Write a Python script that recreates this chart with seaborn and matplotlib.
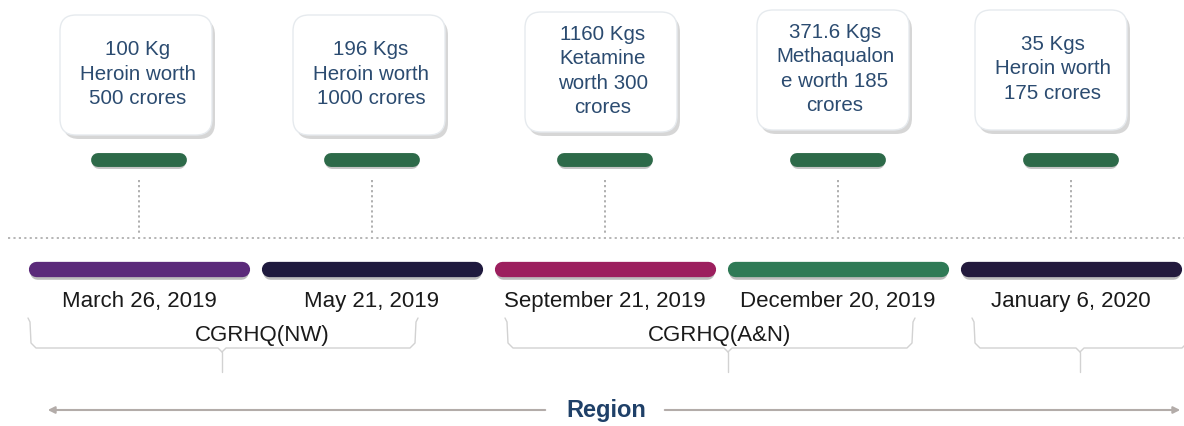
import seaborn as sns
import matplotlib.pyplot as plt
from matplotlib.patches import FancyBboxPatch

sns.set_theme(style="white")
plt.rcParams["font.family"] = ["Liberation Sans", "DejaVu Sans"]

# data
seizures = ["100 Kg\nHeroin worth\n500 crores",
            "196 Kgs\nHeroin worth\n1000 crores",
            "1160 Kgs\nKetamine\nworth 300\ncrores",
            "371.6 Kgs\nMethaqualon\ne worth 185\ncrores",
            "35 Kgs\nHeroin worth\n175 crores"]
dates = ["March 26, 2019", "May 21, 2019", "September 21, 2019",
         "December 20, 2019", "January 6, 2020"]
bar_colors = ["#5b2a7a", "#1f1a3e", "#9c1f5e", "#2f7a56", "#231a3d"]
regions = ["CGRHQ(NW)", "CGRHQ(A&N)", ""]
axis_label = "Region"

# layout (pixels)
W, H = 1184, 426
step = 233
x0 = 139
box_cx = [136, 369, 601, 833, 1051]
box_cy = [75, 75, 72, 70, 70]
brace_x = [(28, 418, 222, 262), (505, 915, 728, 720), (972, 1190, 1080, 0)]

fig = plt.figure(figsize=(W / 100, H / 100), dpi=100)
ax = fig.add_axes([0, 0, 1, 1])
ax.set_xlim(0, W)
ax.set_ylim(H, 0)
ax.axis("off")

text_blue = "#2b4b70"
for i, txt in enumerate(seizures):
    cx, cy = box_cx[i], box_cy[i]
    bw, bh = 152, 120
    shadow = FancyBboxPatch((cx - bw / 2 + 3, cy - bh / 2 + 4), bw, bh,
                            boxstyle="round,pad=0,rounding_size=16",
                            fc="#9a9a9a", ec="none", alpha=0.4, zorder=1)
    box = FancyBboxPatch((cx - bw / 2, cy - bh / 2), bw, bh,
                         boxstyle="round,pad=0,rounding_size=16",
                         fc="white", ec="#e6eaee", lw=1, zorder=2)
    ax.add_patch(shadow)
    ax.add_patch(box)
    ax.text(cx + 2, cy - 1, txt, ha="center", va="center", fontsize=14.8,
            color=text_blue, linespacing=1.36, zorder=3)

    # small green marker bar and dotted connector
    xc = x0 + step * i
    ax.plot([xc - 40, xc + 40], [162, 162], color="#8a8a8a", lw=10,
            solid_capstyle="round", alpha=0.5, zorder=1)
    ax.plot([xc - 41, xc + 41], [160, 160], color="#2d6a49", lw=10,
            solid_capstyle="round", zorder=2)
    ax.plot([xc, xc], [180, 234], color="#a8a8a8", lw=1.3,
            linestyle=(0, (1.2, 1.6)), zorder=1)

    # main coloured bar and date label
    ax.plot([xc - 102, xc + 102], [272, 272], color="#7a7a7a", lw=10.5,
            solid_capstyle="round", alpha=0.5, zorder=1)
    ax.plot([xc - 103, xc + 103], [269, 269], color=bar_colors[i], lw=11,
            solid_capstyle="round", zorder=2)
    ax.text(xc, 302, dates[i], ha="center", va="center", fontsize=16,
            color="#1a1a1a")

# horizontal dotted divider
ax.plot([8, W], [238, 238], color="#b0b0b0", lw=1.3,
        linestyle=(0, (1.2, 1.8)))

# braces for regions
brace_c = "#d2d2d2"
for (left, right, tip, tx), name in zip(brace_x, regions):
    ax.plot([left, left + 2, left + 3, left + 8, tip - 4, tip],
            [318, 322, 343, 348, 348, 352], color=brace_c, lw=1)
    ax.plot([right, right - 2, right - 3, right - 8, tip + 4, tip],
            [318, 322, 343, 348, 348, 352], color=brace_c, lw=1)
    ax.plot([tip, tip], [352, 372], color=brace_c, lw=1)
    if name:
        ax.text(tx, 336, name, ha="center", va="center", fontsize=16,
                color="#1a1a1a")

# region axis arrow
arrow_c = "#b3aca9"
ax.annotate("", xy=(45, 410), xytext=(548, 410),
            arrowprops=dict(arrowstyle="-|>", color=arrow_c, lw=1.5,
                            mutation_scale=10))
ax.annotate("", xy=(1183, 410), xytext=(662, 410),
            arrowprops=dict(arrowstyle="-|>", color=arrow_c, lw=1.5,
                            mutation_scale=10))
ax.text(606, 410, axis_label, ha="center", va="center", fontsize=17,
        fontweight="bold", color="#1f4068")

fig.savefig("out.png", dpi=100)
